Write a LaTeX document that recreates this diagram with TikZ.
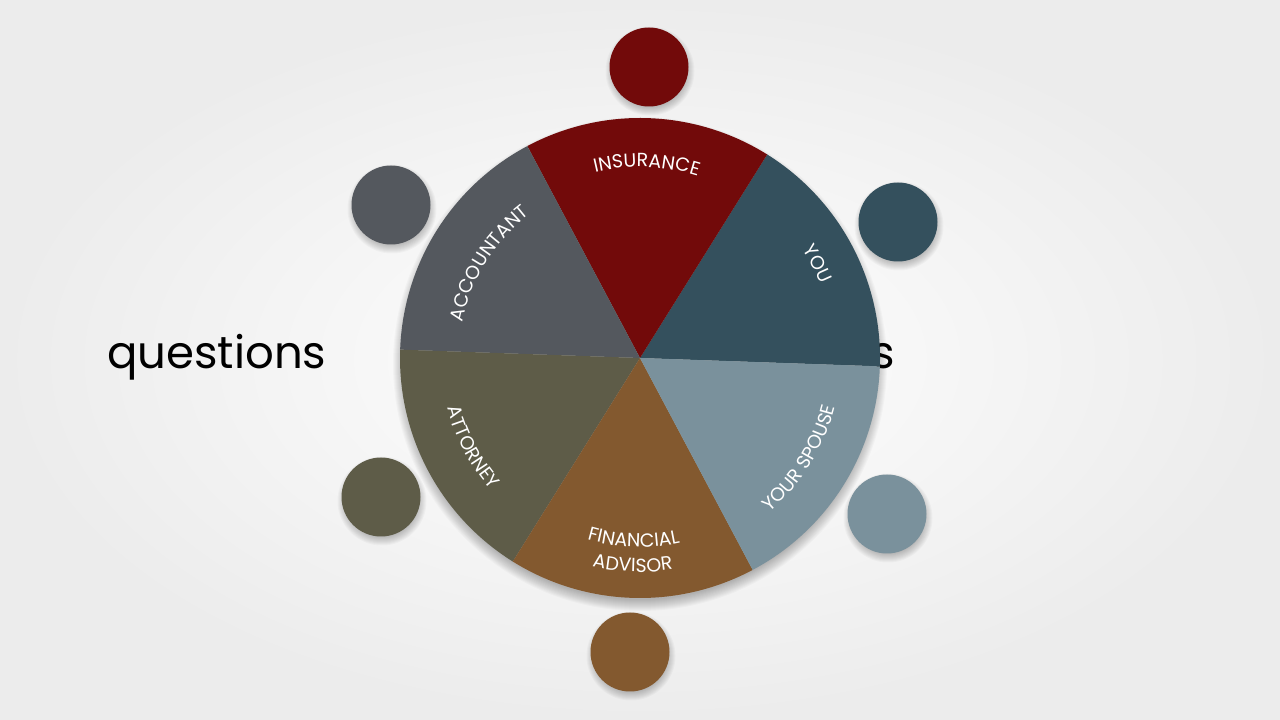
\documentclass[tikz,border=0pt]{standalone}
\usepackage{fontspec}
\setmainfont{Poppins}
\usetikzlibrary{decorations.text}
\definecolor{cins}{HTML}{720A0A}
\definecolor{cyou}{HTML}{34505D}
\definecolor{cacc}{HTML}{54585E}
\definecolor{catt}{HTML}{5E5C48}
\definecolor{cfin}{HTML}{83592F}
\definecolor{csp}{HTML}{7A919C}
\definecolor{bgout}{HTML}{ECECEC}
\newcommand\lblfont{\color{white}\fontsize{19}{19}\selectfont}
\newcommand\softshadow[4]{% x y radius yshift
  \foreach \k in {0,...,9}{\fill[black,opacity=0.028] (#1+1,#2-#4) circle ({#3-4+\k});}}
\begin{document}
\begin{tikzpicture}[x=1pt,y=1pt,
  dot/.style={circle,minimum size=79pt,inner sep=0pt,fill=#1},
  bigword/.style={font=\fontsize{45}{45}\selectfont,inner sep=0pt,text=black},
  arclabel/.style={decorate,decoration={text along path,text align=center,text={|\lblfont|#1}}}]
\shade[outer color=bgout,inner color=white] (0,0) rectangle (1280,720);
\useasboundingbox (0,0) rectangle (1280,720);
\coordinate (c) at (640,362);
% words
\node[bigword,anchor=base west] (q) at (107,351) {questions};
\node[bigword,anchor=base west] (s) at (871,351) {s};
% outer circles
\softshadow{649}{653}{39.5}{4}
\softshadow{391}{515}{39.5}{4}
\softshadow{898}{498}{39.5}{4}
\softshadow{381}{223}{39.5}{4}
\softshadow{887}{206}{39.5}{4}
\softshadow{630}{68}{39.5}{4}
\node[dot=cins] (dins) at (649,653) {};
\node[dot=cacc] (dacc) at (391,515) {};
\node[dot=cyou] (dyou) at (898,498) {};
\node[dot=catt] (datt) at (381,223) {};
\node[dot=csp] (dsp) at (887,206) {};
\node[dot=cfin] (dfin) at (630,68) {};
% pie
\foreach \k in {0,...,11}{\fill[black,opacity=0.025] (640,356) circle ({236+\k});}
\fill[cyou] (c) -- ++(-2:240) arc[start angle=-2,end angle=58,radius=240] -- cycle;
\fill[cins] (c) -- ++(58:240) arc[start angle=58,end angle=118,radius=240] -- cycle;
\fill[cacc] (c) -- ++(118:240) arc[start angle=118,end angle=178,radius=240] -- cycle;
\fill[catt] (c) -- ++(178:240) arc[start angle=178,end angle=238,radius=240] -- cycle;
\fill[cfin] (c) -- ++(238:240) arc[start angle=238,end angle=298,radius=240] -- cycle;
\fill[csp] (c) -- ++(298:240) arc[start angle=298,end angle=358,radius=240] -- cycle;
% labels
\path[arclabel=INSURANCE] (c) ++(118:191) arc[start angle=118,end angle=58,radius=191];
\path[arclabel=ACCOUNTANT] (c) ++(178:181) arc[start angle=178,end angle=118,radius=181];
\path[arclabel=YOU] (c) ++(58:195) arc[start angle=58,end angle=-2,radius=195];
\path[arclabel=YOUR SPOUSE] (c) ++(298:201) arc[start angle=298,end angle=358,radius=201];
\path[arclabel=ATTORNEY] (c) ++(178:199) arc[start angle=178,end angle=238,radius=199];
\path[arclabel=FINANCIAL] (c) ++(238:189) arc[start angle=238,end angle=298,radius=189];
\path[arclabel=ADVISOR] (c) ++(238:214) arc[start angle=238,end angle=298,radius=214];
\end{tikzpicture}
\end{document}
